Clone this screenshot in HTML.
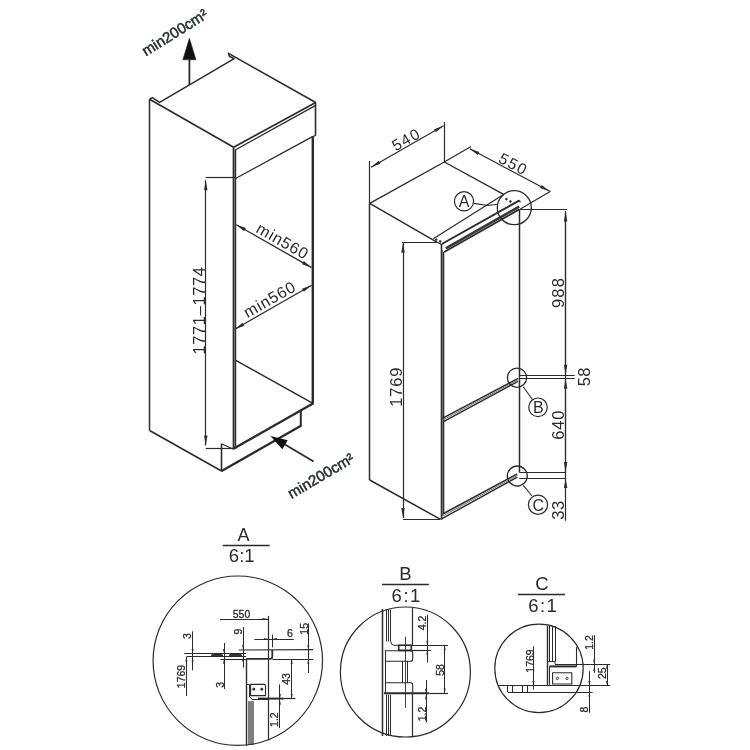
<!DOCTYPE html>
<html><head><meta charset="utf-8"><style>
html,body{margin:0;padding:0;background:#fff;}
svg{display:block;}
text{font-family:"Liberation Sans",sans-serif;}
</style></head><body>
<svg width="750" height="750" viewBox="0 0 750 750">
<defs><filter id="nf" filterUnits="userSpaceOnUse" x="0" y="0" width="750" height="750"><feOffset dx="0" dy="0"/></filter></defs>
<rect width="750" height="750" fill="#fff"/>
<g filter="url(#nf)">
<polyline points="149.60,99.20 152.40,97.60 159.60,102.40 234.20,58.60 229.50,56.50 228.50,53.30 315.70,102.50" stroke="#2b2b2b" stroke-width="1.5" fill="none" stroke-linejoin="round"/>
<line x1="149.60" y1="99.20" x2="233.60" y2="147.30" stroke="#2b2b2b" stroke-width="1.6" stroke-linecap="butt"/>
<line x1="233.60" y1="147.30" x2="315.70" y2="102.50" stroke="#2b2b2b" stroke-width="1.6" stroke-linecap="butt"/>
<line x1="235.20" y1="150.00" x2="315.20" y2="105.60" stroke="#2b2b2b" stroke-width="1.3" stroke-linecap="butt"/>
<line x1="315.50" y1="102.50" x2="315.50" y2="135.80" stroke="#2b2b2b" stroke-width="1.6" stroke-linecap="butt"/>
<polyline points="235.50,178.50 312.50,136.60 315.70,135.50" stroke="#2b2b2b" stroke-width="1.3" fill="none" stroke-linejoin="round"/>
<line x1="233.50" y1="147.30" x2="233.50" y2="449.00" stroke="#2b2b2b" stroke-width="1.7" stroke-linecap="butt"/>
<line x1="235.50" y1="149.80" x2="235.50" y2="449.00" stroke="#2b2b2b" stroke-width="1.4" stroke-linecap="butt"/>
<line x1="234.50" y1="150.00" x2="234.50" y2="449.00" stroke="#777" stroke-width="1.0" stroke-linecap="butt"/>
<line x1="149.50" y1="99.20" x2="149.50" y2="430.50" stroke="#2b2b2b" stroke-width="1.5" stroke-linecap="butt"/>
<line x1="312.80" y1="136.60" x2="312.80" y2="403.50" stroke="#2b2b2b" stroke-width="2.4" stroke-linecap="butt"/>
<line x1="235.80" y1="360.40" x2="312.50" y2="403.20" stroke="#2b2b2b" stroke-width="1.4" stroke-linecap="butt"/>
<line x1="233.00" y1="449.00" x2="313.40" y2="403.20" stroke="#2b2b2b" stroke-width="2.4" stroke-linecap="butt"/>
<line x1="149.60" y1="430.50" x2="221.50" y2="471.00" stroke="#2b2b2b" stroke-width="1.5" stroke-linecap="butt"/>
<line x1="221.50" y1="443.80" x2="221.50" y2="471.00" stroke="#2b2b2b" stroke-width="1.6" stroke-linecap="butt"/>
<line x1="221.50" y1="443.80" x2="233.00" y2="449.00" stroke="#2b2b2b" stroke-width="1.2" stroke-linecap="butt"/>
<line x1="221.20" y1="471.20" x2="301.40" y2="425.60" stroke="#2b2b2b" stroke-width="2.3" stroke-linecap="butt"/>
<line x1="300.80" y1="411.00" x2="300.80" y2="426.00" stroke="#2b2b2b" stroke-width="2.0" stroke-linecap="butt"/>
<line x1="205.50" y1="180.30" x2="205.50" y2="445.60" stroke="#2b2b2b" stroke-width="1.2" stroke-linecap="butt"/>
<polygon points="205.80,180.30 207.50,190.30 204.10,190.30" fill="#2b2b2b"/>
<polygon points="205.80,445.60 204.10,435.60 207.50,435.60" fill="#2b2b2b"/>
<line x1="205.80" y1="177.50" x2="235.00" y2="177.50" stroke="#2b2b2b" stroke-width="1.2" stroke-linecap="butt"/>
<line x1="205.80" y1="448.50" x2="233.00" y2="448.50" stroke="#2b2b2b" stroke-width="1.2" stroke-linecap="butt"/>
<text transform="translate(204.5,310.5) rotate(-90) scale(1,1)" font-size="16.5" text-anchor="middle" letter-spacing="0.6" fill="#2b2b2b" font-weight="normal">1771–1774</text>
<line x1="236.30" y1="224.70" x2="311.60" y2="267.60" stroke="#2b2b2b" stroke-width="1.3" stroke-linecap="butt"/>
<polygon points="236.30,224.70 245.88,228.09 244.10,231.21" fill="#2b2b2b"/>
<polygon points="311.60,267.60 302.02,264.21 303.80,261.09" fill="#2b2b2b"/>
<text transform="translate(280,246) rotate(29.6) scale(1,1)" font-size="16" text-anchor="middle" letter-spacing="0.8" fill="#2b2b2b" font-weight="normal">min560</text>
<line x1="234.80" y1="329.20" x2="311.60" y2="285.30" stroke="#2b2b2b" stroke-width="1.3" stroke-linecap="butt"/>
<polygon points="234.80,329.20 242.59,322.67 244.38,325.80" fill="#2b2b2b"/>
<polygon points="311.60,285.30 303.81,291.83 302.02,288.70" fill="#2b2b2b"/>
<text transform="translate(272.5,304) rotate(-29.6) scale(1,1)" font-size="16" text-anchor="middle" letter-spacing="0.8" fill="#2b2b2b" font-weight="normal">min560</text>
<line x1="189.40" y1="85.00" x2="189.40" y2="59.50" stroke="#2b2b2b" stroke-width="1.8" stroke-linecap="butt"/>
<polygon points="182.80,59.80 196.00,59.80 189.40,38.20" stroke="#2b2b2b" stroke-width="0.6" fill="#111" stroke-linejoin="round"/>
<text transform="translate(146,56.5) rotate(-32) scale(1,1)" font-size="15" text-anchor="start" letter-spacing="0" fill="#24332f" font-weight="normal" stroke="#24332f" stroke-width="0.5">min200cm²</text>
<line x1="313.60" y1="461.60" x2="282.00" y2="442.80" stroke="#2b2b2b" stroke-width="1.8" stroke-linecap="butt"/>
<polygon points="270.40,436.00 287.70,440.15 282.35,449.18" fill="#111"/>
<text transform="translate(291.5,499) rotate(-30.5) scale(1,1)" font-size="15" text-anchor="start" letter-spacing="0" fill="#24332f" font-weight="normal" stroke="#24332f" stroke-width="0.5">min200cm²</text>
<line x1="369.70" y1="203.30" x2="444.30" y2="162.00" stroke="#2b2b2b" stroke-width="1.4" stroke-linecap="butt"/>
<line x1="444.30" y1="162.00" x2="503.60" y2="194.40" stroke="#2b2b2b" stroke-width="1.4" stroke-linecap="butt"/>
<line x1="369.70" y1="203.30" x2="437.30" y2="242.30" stroke="#2b2b2b" stroke-width="1.4" stroke-linecap="butt"/>
<line x1="433.30" y1="238.70" x2="503.60" y2="194.40" stroke="#2b2b2b" stroke-width="1.2" stroke-linecap="butt"/>
<polyline points="437.30,242.30 441.50,244.50" stroke="#2b2b2b" stroke-width="1.2" fill="none" stroke-linejoin="round"/>
<line x1="441.80" y1="244.00" x2="519.50" y2="200.40" stroke="#2b2b2b" stroke-width="1.9" stroke-linecap="butt"/>
<line x1="445.80" y1="248.40" x2="519.20" y2="206.60" stroke="#3a3a3a" stroke-width="2.8" stroke-linecap="butt"/>
<line x1="444.20" y1="252.00" x2="519.20" y2="209.40" stroke="#2b2b2b" stroke-width="1.7" stroke-linecap="butt"/>
<line x1="519.50" y1="200.40" x2="520.30" y2="202.50" stroke="#2b2b2b" stroke-width="1.2" stroke-linecap="butt"/>
<circle cx="436.2" cy="239.6" r="0.9" stroke="#2b2b2b" stroke-width="0.8" fill="#2b2b2b"/>
<circle cx="440.2" cy="241.4" r="0.9" stroke="#2b2b2b" stroke-width="0.8" fill="#2b2b2b"/>
<circle cx="506.4" cy="199.2" r="0.9" stroke="#2b2b2b" stroke-width="0.8" fill="#2b2b2b"/>
<circle cx="510.4" cy="201.4" r="0.9" stroke="#2b2b2b" stroke-width="0.8" fill="#2b2b2b"/>
<line x1="369.50" y1="203.30" x2="369.50" y2="480.00" stroke="#2b2b2b" stroke-width="1.5" stroke-linecap="butt"/>
<line x1="369.70" y1="480.00" x2="440.50" y2="519.30" stroke="#2b2b2b" stroke-width="1.5" stroke-linecap="butt"/>
<line x1="441.50" y1="244.00" x2="441.50" y2="519.30" stroke="#2b2b2b" stroke-width="1.6" stroke-linecap="butt"/>
<line x1="443.50" y1="252.00" x2="443.50" y2="514.00" stroke="#2b2b2b" stroke-width="1.6" stroke-linecap="butt"/>
<line x1="442.50" y1="250.00" x2="442.50" y2="516.00" stroke="#777" stroke-width="1.0" stroke-linecap="butt"/>
<line x1="519.50" y1="209.00" x2="519.50" y2="472.40" stroke="#2b2b2b" stroke-width="1.5" stroke-linecap="butt"/>
<line x1="442.30" y1="418.30" x2="518.20" y2="378.30" stroke="#2b2b2b" stroke-width="1.5" stroke-linecap="butt"/>
<line x1="444.00" y1="421.30" x2="518.00" y2="381.30" stroke="#2b2b2b" stroke-width="1.5" stroke-linecap="butt"/>
<line x1="443.20" y1="419.80" x2="518.00" y2="379.80" stroke="#777" stroke-width="1.0" stroke-linecap="butt"/>
<line x1="440.70" y1="519.30" x2="517.30" y2="477.20" stroke="#2b2b2b" stroke-width="1.5" stroke-linecap="butt"/>
<line x1="442.70" y1="514.00" x2="517.30" y2="473.90" stroke="#2b2b2b" stroke-width="1.5" stroke-linecap="butt"/>
<line x1="441.70" y1="516.60" x2="517.30" y2="475.50" stroke="#777" stroke-width="1.0" stroke-linecap="butt"/>
<line x1="371.00" y1="167.30" x2="443.60" y2="125.70" stroke="#2b2b2b" stroke-width="1.2" stroke-linecap="butt"/>
<polygon points="371.00,167.30 378.83,160.85 380.52,163.80" fill="#2b2b2b"/>
<polygon points="443.60,125.70 435.77,132.15 434.08,129.20" fill="#2b2b2b"/>
<line x1="369.50" y1="203.30" x2="369.50" y2="161.00" stroke="#2b2b2b" stroke-width="1.2" stroke-linecap="butt"/>
<line x1="444.50" y1="162.00" x2="444.50" y2="122.00" stroke="#2b2b2b" stroke-width="1.2" stroke-linecap="butt"/>
<text transform="translate(409,144) rotate(-29.8) scale(1,1)" font-size="15.5" text-anchor="middle" letter-spacing="1.5" fill="#2b2b2b" font-weight="normal">540</text>
<line x1="469.70" y1="148.70" x2="549.70" y2="191.30" stroke="#2b2b2b" stroke-width="1.2" stroke-linecap="butt"/>
<polygon points="469.70,148.70 479.33,151.90 477.73,154.90" fill="#2b2b2b"/>
<polygon points="549.70,191.30 540.07,188.10 541.67,185.10" fill="#2b2b2b"/>
<line x1="444.30" y1="162.00" x2="471.00" y2="146.60" stroke="#2b2b2b" stroke-width="1.2" stroke-linecap="butt"/>
<line x1="520.30" y1="209.00" x2="550.60" y2="191.20" stroke="#2b2b2b" stroke-width="1.2" stroke-linecap="butt"/>
<text transform="translate(511,169) rotate(28) scale(1,1)" font-size="15.5" text-anchor="middle" letter-spacing="1.5" fill="#2b2b2b" font-weight="normal">550</text>
<circle cx="514.3" cy="207.7" r="17" stroke="#2b2b2b" stroke-width="1.3" fill="none"/>
<circle cx="464" cy="201.3" r="9.6" stroke="#2b2b2b" stroke-width="1.2" fill="none"/>
<text transform="translate(464,207.2) rotate(0) scale(1,1)" font-size="16" text-anchor="middle" letter-spacing="0" fill="#2b2b2b" font-weight="normal">A</text>
<polyline points="473.80,203.40 488.00,205.50 497.50,204.30" stroke="#2b2b2b" stroke-width="1.1" fill="none" stroke-linejoin="round"/>
<line x1="519.30" y1="209.50" x2="567.00" y2="209.50" stroke="#2b2b2b" stroke-width="1.2" stroke-linecap="butt"/>
<line x1="565.50" y1="211.50" x2="565.50" y2="374.70" stroke="#2b2b2b" stroke-width="1.2" stroke-linecap="butt"/>
<polygon points="565.60,211.50 567.30,221.50 563.90,221.50" fill="#2b2b2b"/>
<polygon points="565.60,374.70 563.90,364.70 567.30,364.70" fill="#2b2b2b"/>
<text transform="translate(564,292.4) rotate(-90) scale(1,1)" font-size="16.5" text-anchor="middle" letter-spacing="1.3" fill="#2b2b2b" font-weight="normal">988</text>
<line x1="519.30" y1="375.50" x2="574.70" y2="375.50" stroke="#2b2b2b" stroke-width="1.2" stroke-linecap="butt"/>
<line x1="519.30" y1="378.50" x2="574.70" y2="378.50" stroke="#2b2b2b" stroke-width="1.2" stroke-linecap="butt"/>
<text transform="translate(589.5,376.7) rotate(-90) scale(1,1)" font-size="16.5" text-anchor="middle" letter-spacing="0.5" fill="#2b2b2b" font-weight="normal">58</text>
<line x1="565.50" y1="378.70" x2="565.50" y2="472.00" stroke="#2b2b2b" stroke-width="1.2" stroke-linecap="butt"/>
<polygon points="565.60,378.70 567.30,388.70 563.90,388.70" fill="#2b2b2b"/>
<polygon points="565.60,472.00 563.90,462.00 567.30,462.00" fill="#2b2b2b"/>
<text transform="translate(564.2,424.7) rotate(-90) scale(1,1)" font-size="16.5" text-anchor="middle" letter-spacing="0.8" fill="#2b2b2b" font-weight="normal">640</text>
<line x1="519.30" y1="472.50" x2="566.00" y2="472.50" stroke="#2b2b2b" stroke-width="1.2" stroke-linecap="butt"/>
<line x1="519.30" y1="478.50" x2="566.00" y2="478.50" stroke="#2b2b2b" stroke-width="1.2" stroke-linecap="butt"/>
<line x1="565.50" y1="211.50" x2="565.50" y2="520.70" stroke="#2b2b2b" stroke-width="1.2" stroke-linecap="butt"/>
<polygon points="565.60,478.00 567.30,488.00 563.90,488.00" fill="#2b2b2b"/>
<text transform="translate(564.2,510) rotate(-90) scale(1,1)" font-size="16.5" text-anchor="middle" letter-spacing="0.5" fill="#2b2b2b" font-weight="normal">33</text>
<circle cx="517" cy="377.7" r="9.6" stroke="#2b2b2b" stroke-width="1.3" fill="none"/>
<circle cx="517.3" cy="476" r="10" stroke="#2b2b2b" stroke-width="1.3" fill="none"/>
<line x1="523.30" y1="386.70" x2="532.70" y2="400.00" stroke="#2b2b2b" stroke-width="1.1" stroke-linecap="butt"/>
<circle cx="538" cy="407.3" r="9.3" stroke="#2b2b2b" stroke-width="1.2" fill="none"/>
<text transform="translate(538.3,413.2) rotate(0) scale(1,1)" font-size="16" text-anchor="middle" letter-spacing="0" fill="#2b2b2b" font-weight="normal">B</text>
<line x1="523.30" y1="485.30" x2="532.00" y2="496.00" stroke="#2b2b2b" stroke-width="1.1" stroke-linecap="butt"/>
<circle cx="538" cy="504.7" r="9.6" stroke="#2b2b2b" stroke-width="1.2" fill="none"/>
<text transform="translate(538.3,510.6) rotate(0) scale(1,1)" font-size="16" text-anchor="middle" letter-spacing="0" fill="#2b2b2b" font-weight="normal">C</text>
<line x1="403.50" y1="242.70" x2="403.50" y2="518.00" stroke="#2b2b2b" stroke-width="1.2" stroke-linecap="butt"/>
<polygon points="403.00,242.70 404.70,252.70 401.30,252.70" fill="#2b2b2b"/>
<polygon points="403.00,518.00 401.30,508.00 404.70,508.00" fill="#2b2b2b"/>
<line x1="402.00" y1="242.50" x2="437.30" y2="242.50" stroke="#2b2b2b" stroke-width="1.2" stroke-linecap="butt"/>
<line x1="403.00" y1="519.50" x2="440.00" y2="519.50" stroke="#2b2b2b" stroke-width="1.2" stroke-linecap="butt"/>
<text transform="translate(402,386.7) rotate(-90) scale(1,1)" font-size="16.5" text-anchor="middle" letter-spacing="0.8" fill="#2b2b2b" font-weight="normal">1769</text>
<text transform="translate(243.6,541.3) rotate(0) scale(1,1)" font-size="18" text-anchor="middle" letter-spacing="0" fill="#2b2b2b" font-weight="normal">A</text>
<line x1="222.80" y1="545.50" x2="269.70" y2="545.50" stroke="#2b2b2b" stroke-width="1.4" stroke-linecap="butt"/>
<text transform="translate(241.7,561.5) rotate(0) scale(1,1)" font-size="18.5" text-anchor="middle" letter-spacing="0" fill="#2b2b2b" font-weight="normal">6:1</text>
<circle cx="237.8" cy="660.7" r="84.7" stroke="#2b2b2b" stroke-width="1.2" fill="none"/>
<text transform="translate(241.5,618) rotate(0) scale(1,1)" font-size="10.5" text-anchor="middle" letter-spacing="0" fill="#2b2b2b" font-weight="normal" stroke="#2b2b2b" stroke-width="0.3">550</text>
<line x1="220.00" y1="619.50" x2="268.30" y2="619.50" stroke="#2b2b2b" stroke-width="1.1" stroke-linecap="butt"/>
<polygon points="268.30,619.10 262.30,620.20 262.30,618.00" fill="#2b2b2b"/>
<line x1="268.50" y1="615.90" x2="268.50" y2="740.40" stroke="#2b2b2b" stroke-width="1.2" stroke-linecap="butt"/>
<text transform="translate(241.8,631.5) rotate(-90) scale(1,1)" font-size="10.5" text-anchor="middle" letter-spacing="0" fill="#2b2b2b" font-weight="normal" stroke="#2b2b2b" stroke-width="0.3">9</text>
<line x1="243.50" y1="627.00" x2="243.50" y2="667.60" stroke="#2b2b2b" stroke-width="1.0" stroke-linecap="butt"/>
<polygon points="243.10,649.60 242.10,645.10 244.10,645.10" fill="#2b2b2b"/>
<polygon points="243.10,657.00 244.10,661.50 242.10,661.50" fill="#2b2b2b"/>
<text transform="translate(190.7,636) rotate(-90) scale(1,1)" font-size="10.5" text-anchor="middle" letter-spacing="0" fill="#2b2b2b" font-weight="normal" stroke="#2b2b2b" stroke-width="0.3">3</text>
<line x1="192.50" y1="631.30" x2="192.50" y2="670.30" stroke="#2b2b2b" stroke-width="1.0" stroke-linecap="butt"/>
<polygon points="192.60,653.40 191.60,648.90 193.60,648.90" fill="#2b2b2b"/>
<polygon points="192.60,657.00 193.60,661.50 191.60,661.50" fill="#2b2b2b"/>
<text transform="translate(223.8,684.8) rotate(-90) scale(1,1)" font-size="10.5" text-anchor="middle" letter-spacing="0" fill="#2b2b2b" font-weight="normal" stroke="#2b2b2b" stroke-width="0.3">3</text>
<line x1="224.50" y1="643.00" x2="224.50" y2="689.00" stroke="#2b2b2b" stroke-width="1.0" stroke-linecap="butt"/>
<polygon points="224.00,653.60 223.00,649.10 225.00,649.10" fill="#2b2b2b"/>
<polygon points="224.00,659.20 225.00,663.70 223.00,663.70" fill="#2b2b2b"/>
<text transform="translate(185.3,676.5) rotate(-90) scale(1,1)" font-size="10.5" text-anchor="middle" letter-spacing="0" fill="#2b2b2b" font-weight="normal" stroke="#2b2b2b" stroke-width="0.3">1769</text>
<line x1="186.50" y1="657.00" x2="186.50" y2="696.00" stroke="#2b2b2b" stroke-width="1.0" stroke-linecap="butt"/>
<polygon points="186.40,657.00 187.40,661.50 185.40,661.50" fill="#2b2b2b"/>
<line x1="184.30" y1="653.50" x2="246.10" y2="653.50" stroke="#2b2b2b" stroke-width="1.1" stroke-linecap="butt"/>
<line x1="186.40" y1="656.50" x2="246.10" y2="656.50" stroke="#2b2b2b" stroke-width="1.1" stroke-linecap="butt"/>
<polygon points="211.00,655.40 214.00,653.90 220.00,653.90 223.00,655.40" stroke="#2b2b2b" stroke-width="1.0" fill="#2b2b2b" stroke-linejoin="round"/>
<polygon points="229.00,655.40 232.00,653.90 239.00,653.90 242.00,655.40" stroke="#2b2b2b" stroke-width="1.0" fill="#2b2b2b" stroke-linejoin="round"/>
<line x1="238.70" y1="650.00" x2="313.10" y2="649.70" stroke="#2b2b2b" stroke-width="1.2" stroke-linecap="butt"/>
<line x1="220.50" y1="659.50" x2="246.40" y2="659.50" stroke="#2b2b2b" stroke-width="1.1" stroke-linecap="butt"/>
<line x1="272.50" y1="659.50" x2="313.10" y2="659.50" stroke="#2b2b2b" stroke-width="1.2" stroke-linecap="butt"/>
<path d="M246.4,658.9 L270,658.9 Q272.3,658.9 272.3,656.5 L272.3,650" stroke="#2b2b2b" stroke-width="1.8" fill="none" stroke-linejoin="round"/>
<text transform="translate(290,637.3) rotate(0) scale(1,1)" font-size="10.5" text-anchor="middle" letter-spacing="0" fill="#2b2b2b" font-weight="normal" stroke="#2b2b2b" stroke-width="0.3">6</text>
<line x1="254.40" y1="639.50" x2="293.90" y2="639.50" stroke="#2b2b2b" stroke-width="1.0" stroke-linecap="butt"/>
<polygon points="268.30,639.00 263.80,640.00 263.80,638.00" fill="#2b2b2b"/>
<polygon points="272.50,639.00 277.00,638.00 277.00,640.00" fill="#2b2b2b"/>
<line x1="272.50" y1="634.50" x2="272.50" y2="647.30" stroke="#2b2b2b" stroke-width="1.0" stroke-linecap="butt"/>
<text transform="translate(308.3,628.8) rotate(-90) scale(1,1)" font-size="10.5" text-anchor="middle" letter-spacing="0" fill="#2b2b2b" font-weight="normal" stroke="#2b2b2b" stroke-width="0.3">15</text>
<line x1="308.50" y1="623.30" x2="308.50" y2="673.00" stroke="#2b2b2b" stroke-width="1.0" stroke-linecap="butt"/>
<polygon points="308.30,649.70 307.30,645.20 309.30,645.20" fill="#2b2b2b"/>
<polygon points="308.30,659.30 309.30,663.80 307.30,663.80" fill="#2b2b2b"/>
<text transform="translate(289.8,679) rotate(-90) scale(1,1)" font-size="10.5" text-anchor="middle" letter-spacing="0" fill="#2b2b2b" font-weight="normal" stroke="#2b2b2b" stroke-width="0.3">43</text>
<line x1="291.50" y1="659.60" x2="291.50" y2="698.60" stroke="#2b2b2b" stroke-width="1.0" stroke-linecap="butt"/>
<polygon points="291.70,659.60 292.70,664.10 290.70,664.10" fill="#2b2b2b"/>
<polygon points="291.70,698.60 290.70,694.10 292.70,694.10" fill="#2b2b2b"/>
<line x1="258.00" y1="698.60" x2="283.70" y2="698.60" stroke="#2b2b2b" stroke-width="2.0" stroke-linecap="butt"/>
<line x1="283.70" y1="698.50" x2="295.40" y2="698.50" stroke="#2b2b2b" stroke-width="1.2" stroke-linecap="butt"/>
<line x1="251.70" y1="699.50" x2="268.70" y2="699.50" stroke="#2b2b2b" stroke-width="1.0" stroke-linecap="butt"/>
<path d="M250.6,695.6 L250.6,684.4 L264,684.4 Q265.5,684.4 265.5,686 L265.5,695.6 Z" stroke="#2b2b2b" stroke-width="1.1" fill="none" stroke-linejoin="round"/>
<circle cx="253.8" cy="689.2" r="1.1" stroke="#2b2b2b" stroke-width="0.9" fill="#2b2b2b"/>
<circle cx="261.8" cy="689.2" r="1.1" stroke="#2b2b2b" stroke-width="0.9" fill="#2b2b2b"/>
<polyline points="247.00,684.40 249.50,684.40 249.50,697.00 252.00,698.60" stroke="#2b2b2b" stroke-width="1.0" fill="none" stroke-linejoin="round"/>
<text transform="translate(278.3,719.6) rotate(-90) scale(1,1)" font-size="10.5" text-anchor="middle" letter-spacing="0" fill="#2b2b2b" font-weight="normal" stroke="#2b2b2b" stroke-width="0.3">1.2</text>
<line x1="279.50" y1="684.40" x2="279.50" y2="728.10" stroke="#2b2b2b" stroke-width="1.0" stroke-linecap="butt"/>
<polygon points="279.90,698.40 278.90,693.90 280.90,693.90" fill="#2b2b2b"/>
<polygon points="279.90,700.20 280.90,704.70 278.90,704.70" fill="#2b2b2b"/>
<line x1="246.50" y1="659.00" x2="246.50" y2="745.70" stroke="#2b2b2b" stroke-width="1.4" stroke-linecap="butt"/>
<line x1="249.00" y1="701.00" x2="249.00" y2="745.00" stroke="#2b2b2b" stroke-width="1.2" stroke-linecap="butt"/>
<line x1="251.00" y1="701.00" x2="251.00" y2="745.00" stroke="#2b2b2b" stroke-width="1.2" stroke-linecap="butt"/>
<line x1="253.00" y1="701.00" x2="253.00" y2="745.00" stroke="#2b2b2b" stroke-width="1.2" stroke-linecap="butt"/>
<text transform="translate(405.4,579.7) rotate(0) scale(1,1)" font-size="18.5" text-anchor="middle" letter-spacing="0" fill="#2b2b2b" font-weight="normal">B</text>
<line x1="382.00" y1="584.50" x2="428.80" y2="584.50" stroke="#2b2b2b" stroke-width="1.4" stroke-linecap="butt"/>
<text transform="translate(406.7,601.8) rotate(0) scale(1,1)" font-size="18.5" text-anchor="middle" letter-spacing="1.5" fill="#2b2b2b" font-weight="normal">6:1</text>
<circle cx="405.4" cy="672" r="65" stroke="#2b2b2b" stroke-width="1.2" fill="none"/>
<line x1="382.50" y1="609.00" x2="382.50" y2="736.00" stroke="#2b2b2b" stroke-width="1.5" stroke-linecap="butt"/>
<line x1="386.50" y1="609.50" x2="386.50" y2="641.50" stroke="#2b2b2b" stroke-width="1.0" stroke-linecap="butt"/>
<line x1="386.50" y1="694.70" x2="386.50" y2="736.00" stroke="#2b2b2b" stroke-width="1.0" stroke-linecap="butt"/>
<line x1="388.50" y1="609.50" x2="388.50" y2="641.50" stroke="#2b2b2b" stroke-width="1.0" stroke-linecap="butt"/>
<line x1="388.50" y1="694.70" x2="388.50" y2="736.00" stroke="#2b2b2b" stroke-width="1.0" stroke-linecap="butt"/>
<line x1="390.50" y1="609.50" x2="390.50" y2="641.50" stroke="#2b2b2b" stroke-width="1.0" stroke-linecap="butt"/>
<line x1="390.50" y1="694.70" x2="390.50" y2="736.00" stroke="#2b2b2b" stroke-width="1.0" stroke-linecap="butt"/>
<path d="M390.7,641.3 Q391,645.3 394,645.3 L412,645.3" stroke="#2b2b2b" stroke-width="1.0" fill="none" stroke-linejoin="round"/>
<line x1="412.50" y1="608.00" x2="412.50" y2="645.30" stroke="#2b2b2b" stroke-width="1.2" stroke-linecap="butt"/>
<polygon points="398.70,645.30 411.30,645.30 411.30,650.40 398.70,650.40" stroke="#2b2b2b" stroke-width="1.6" fill="none" stroke-linejoin="round"/>
<line x1="411.30" y1="645.50" x2="448.00" y2="645.50" stroke="#2b2b2b" stroke-width="1.2" stroke-linecap="butt"/>
<line x1="411.30" y1="650.50" x2="430.70" y2="650.50" stroke="#2b2b2b" stroke-width="1.2" stroke-linecap="butt"/>
<line x1="405.50" y1="636.70" x2="405.50" y2="708.00" stroke="#2b2b2b" stroke-width="0.9" stroke-linecap="butt"/>
<path d="M384.7,650.7 L410.5,650.7 Q412.7,650.7 412.7,653 L412.7,659 Q412.7,661.3 410.5,661.3 L386,661.3" stroke="#2b2b2b" stroke-width="1.1" fill="none" stroke-linejoin="round"/>
<line x1="402.50" y1="661.30" x2="402.50" y2="682.70" stroke="#2b2b2b" stroke-width="1.0" stroke-linecap="butt"/>
<line x1="407.50" y1="661.30" x2="407.50" y2="682.70" stroke="#2b2b2b" stroke-width="1.0" stroke-linecap="butt"/>
<path d="M386,682.7 L410.5,682.7 Q412.7,682.7 412.7,685 L412.7,693.3" stroke="#2b2b2b" stroke-width="1.1" fill="none" stroke-linejoin="round"/>
<line x1="385.50" y1="650.70" x2="385.50" y2="693.30" stroke="#2b2b2b" stroke-width="1.0" stroke-linecap="butt"/>
<line x1="384.00" y1="693.30" x2="429.30" y2="693.30" stroke="#2b2b2b" stroke-width="2.0" stroke-linecap="butt"/>
<line x1="429.30" y1="693.50" x2="448.00" y2="693.50" stroke="#2b2b2b" stroke-width="1.2" stroke-linecap="butt"/>
<line x1="412.50" y1="693.30" x2="412.50" y2="736.70" stroke="#2b2b2b" stroke-width="1.2" stroke-linecap="butt"/>
<text transform="translate(426,623) rotate(-90) scale(1,1)" font-size="10.5" text-anchor="middle" letter-spacing="0" fill="#2b2b2b" font-weight="normal" stroke="#2b2b2b" stroke-width="0.3">4.2</text>
<line x1="427.50" y1="614.70" x2="427.50" y2="662.70" stroke="#2b2b2b" stroke-width="1.0" stroke-linecap="butt"/>
<polygon points="427.30,645.30 426.30,640.80 428.30,640.80" fill="#2b2b2b"/>
<polygon points="427.30,650.00 428.30,654.50 426.30,654.50" fill="#2b2b2b"/>
<text transform="translate(444,670) rotate(-90) scale(1,1)" font-size="10.5" text-anchor="middle" letter-spacing="0" fill="#2b2b2b" font-weight="normal" stroke="#2b2b2b" stroke-width="0.3">58</text>
<line x1="444.50" y1="645.30" x2="444.50" y2="693.30" stroke="#2b2b2b" stroke-width="1.0" stroke-linecap="butt"/>
<polygon points="444.70,645.50 445.70,650.00 443.70,650.00" fill="#2b2b2b"/>
<polygon points="444.70,693.10 443.70,688.60 445.70,688.60" fill="#2b2b2b"/>
<text transform="translate(426,714) rotate(-90) scale(1,1)" font-size="10.5" text-anchor="middle" letter-spacing="0" fill="#2b2b2b" font-weight="normal" stroke="#2b2b2b" stroke-width="0.3">1.2</text>
<line x1="426.50" y1="680.00" x2="426.50" y2="722.50" stroke="#2b2b2b" stroke-width="1.0" stroke-linecap="butt"/>
<polygon points="426.00,693.30 425.00,688.80 427.00,688.80" fill="#2b2b2b"/>
<polygon points="426.00,695.00 427.00,699.50 425.00,699.50" fill="#2b2b2b"/>
<text transform="translate(542,590.4) rotate(0) scale(1,1)" font-size="18.5" text-anchor="middle" letter-spacing="0" fill="#2b2b2b" font-weight="normal">C</text>
<line x1="518.00" y1="594.50" x2="564.90" y2="594.50" stroke="#2b2b2b" stroke-width="1.4" stroke-linecap="butt"/>
<text transform="translate(543.3,612) rotate(0) scale(1,1)" font-size="18.5" text-anchor="middle" letter-spacing="1.5" fill="#2b2b2b" font-weight="normal">6:1</text>
<circle cx="539" cy="668.4" r="44.2" stroke="#2b2b2b" stroke-width="1.2" fill="none"/>
<text transform="translate(534.2,661) rotate(-90) scale(1,1)" font-size="10.5" text-anchor="middle" letter-spacing="0" fill="#2b2b2b" font-weight="normal" stroke="#2b2b2b" stroke-width="0.3">1769</text>
<line x1="533.50" y1="646.40" x2="533.50" y2="689.60" stroke="#2b2b2b" stroke-width="1.0" stroke-linecap="butt"/>
<polygon points="533.40,685.60 532.40,681.10 534.40,681.10" fill="#2b2b2b"/>
<line x1="498.20" y1="685.50" x2="610.20" y2="685.50" stroke="#2b2b2b" stroke-width="1.2" stroke-linecap="butt"/>
<line x1="507.80" y1="692.50" x2="592.60" y2="692.50" stroke="#2b2b2b" stroke-width="1.2" stroke-linecap="butt"/>
<line x1="507.50" y1="685.60" x2="507.50" y2="692.00" stroke="#2b2b2b" stroke-width="1.1" stroke-linecap="butt"/>
<line x1="512.50" y1="685.60" x2="512.50" y2="692.00" stroke="#2b2b2b" stroke-width="1.1" stroke-linecap="butt"/>
<line x1="522.50" y1="685.60" x2="522.50" y2="692.00" stroke="#2b2b2b" stroke-width="1.1" stroke-linecap="butt"/>
<line x1="527.50" y1="685.60" x2="527.50" y2="692.00" stroke="#2b2b2b" stroke-width="1.1" stroke-linecap="butt"/>
<line x1="547.50" y1="625.60" x2="547.50" y2="685.60" stroke="#2b2b2b" stroke-width="1.4" stroke-linecap="butt"/>
<line x1="549.50" y1="626.00" x2="549.50" y2="661.60" stroke="#2b2b2b" stroke-width="1.0" stroke-linecap="butt"/>
<line x1="552.50" y1="626.00" x2="552.50" y2="661.60" stroke="#2b2b2b" stroke-width="1.0" stroke-linecap="butt"/>
<line x1="555.50" y1="626.00" x2="555.50" y2="661.60" stroke="#2b2b2b" stroke-width="1.0" stroke-linecap="butt"/>
<polyline points="547.00,661.60 555.00,661.60 555.00,664.00" stroke="#2b2b2b" stroke-width="1.0" fill="none" stroke-linejoin="round"/>
<line x1="555.00" y1="664.50" x2="610.20" y2="664.50" stroke="#2b2b2b" stroke-width="1.2" stroke-linecap="butt"/>
<line x1="549.40" y1="666.40" x2="576.60" y2="666.40" stroke="#2b2b2b" stroke-width="2.0" stroke-linecap="butt"/>
<line x1="549.50" y1="666.40" x2="549.50" y2="684.80" stroke="#2b2b2b" stroke-width="1.0" stroke-linecap="butt"/>
<path d="M552.6,672.8 L571.8,672.8 L571.8,684 L552.6,684 Z" stroke="#2b2b2b" stroke-width="1.1" fill="none" stroke-linejoin="round"/>
<circle cx="557.4" cy="678.4" r="1.2" stroke="#2b2b2b" stroke-width="0.9" fill="none"/>
<circle cx="567" cy="678.4" r="1.2" stroke="#2b2b2b" stroke-width="0.9" fill="none"/>
<line x1="576.50" y1="647.20" x2="576.50" y2="666.40" stroke="#2b2b2b" stroke-width="1.1" stroke-linecap="butt"/>
<text transform="translate(592.6,642.5) rotate(-90) scale(1,1)" font-size="10.5" text-anchor="middle" letter-spacing="0" fill="#2b2b2b" font-weight="normal" stroke="#2b2b2b" stroke-width="0.3">1.2</text>
<line x1="594.50" y1="635.20" x2="594.50" y2="672.80" stroke="#2b2b2b" stroke-width="1.0" stroke-linecap="butt"/>
<polygon points="594.20,664.00 593.20,659.50 595.20,659.50" fill="#2b2b2b"/>
<polygon points="594.20,666.40 595.20,670.90 593.20,670.90" fill="#2b2b2b"/>
<text transform="translate(606.2,673.2) rotate(-90) scale(1,1)" font-size="10.5" text-anchor="middle" letter-spacing="0" fill="#2b2b2b" font-weight="normal" stroke="#2b2b2b" stroke-width="0.3">25</text>
<line x1="607.50" y1="664.00" x2="607.50" y2="685.60" stroke="#2b2b2b" stroke-width="1.0" stroke-linecap="butt"/>
<polygon points="607.00,664.20 608.00,668.70 606.00,668.70" fill="#2b2b2b"/>
<polygon points="607.00,685.40 606.00,680.90 608.00,680.90" fill="#2b2b2b"/>
<text transform="translate(587.8,709.6) rotate(-90) scale(1,1)" font-size="10.5" text-anchor="middle" letter-spacing="0" fill="#2b2b2b" font-weight="normal" stroke="#2b2b2b" stroke-width="0.3">8</text>
<line x1="589.50" y1="671.20" x2="589.50" y2="712.80" stroke="#2b2b2b" stroke-width="1.0" stroke-linecap="butt"/>
<polygon points="589.40,685.60 588.40,681.10 590.40,681.10" fill="#2b2b2b"/>
<polygon points="589.40,692.00 590.40,696.50 588.40,696.50" fill="#2b2b2b"/>
</g>
</svg></body></html>
